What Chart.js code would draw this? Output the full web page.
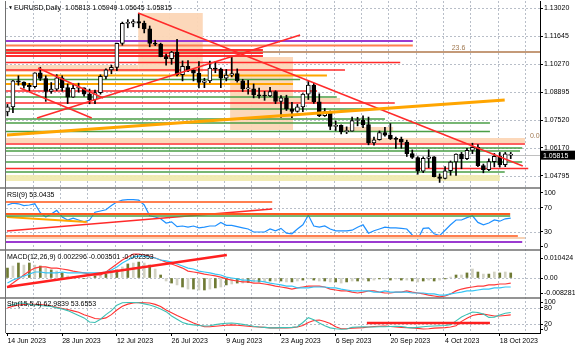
<!DOCTYPE html>
<html>
<head>
<meta charset="utf-8">
<script src="https://cdn.jsdelivr.net/npm/chart.js@4.4.0/dist/chart.umd.min.js"></script>
<style>
  html, body { margin: 0; padding: 0; background: #fff; }
</style>
</head>
<body>
<canvas id="chart" width="575" height="352"></canvas>
<script>
// ---- data (bar index 0 = 14 Jun 2023) ----
const dates = ['14 Jun 2023', '28 Jun 2023', '12 Jul 2023', '26 Jul 2023', '9 Aug 2023',
  '23 Aug 2023', '6 Sep 2023', '20 Sep 2023', '4 Oct 2023', '18 Oct 2023'];
const dateIdx = [0, 10, 20, 30, 40, 50, 60, 70, 80, 90];

const opens = [1.0793,1.0818,1.0946,1.0939,1.0923,1.0917,1.0984,1.0957,1.0893,1.0905,
  1.0960,1.0912,1.0866,1.0909,1.0911,1.0880,1.0852,1.0888,1.0967,1.0999,
  1.1011,1.1129,1.1227,1.1228,1.1236,1.1228,1.1200,1.1128,1.1125,1.1064,
  1.1054,1.1086,1.0975,1.1016,1.0997,1.0983,1.0938,1.0945,1.1008,1.1003,
  1.0958,1.0973,1.0981,1.0946,1.0906,1.0906,1.0877,1.0872,1.0871,1.0893,
  1.0845,1.0862,1.0808,1.0796,1.0818,1.0880,1.0925,1.0843,1.0775,1.0795,
  1.0722,1.0727,1.0697,1.0699,1.0751,1.0753,1.0731,1.0642,1.0657,1.0692,
  1.0679,1.0661,1.0659,1.0645,1.0589,1.0570,1.0503,1.0566,1.0573,1.0476,
  1.0468,1.0505,1.0548,1.0587,1.0564,1.0605,1.0620,1.0530,1.0510,1.0550,
  1.0576,1.0535,1.05813];
const highs = [1.0830,1.0948,1.0970,1.0940,1.0933,1.0985,1.1012,1.0970,1.0937,1.0976,
  1.0970,1.0930,1.0930,1.0934,1.0911,1.0905,1.0900,1.0975,1.1004,1.1022,
  1.1130,1.1233,1.1245,1.1245,1.1276,1.1238,1.1214,1.1144,1.1130,1.1077,
  1.1090,1.1149,1.1043,1.1045,1.1000,1.1040,1.0958,1.1042,1.1040,1.1008,
  1.1001,1.1064,1.1004,1.0953,1.0948,1.0930,1.0910,1.0894,1.0914,1.0897,
  1.0873,1.0875,1.0840,1.0830,1.0883,1.0945,1.0934,1.0882,1.0810,1.0798,
  1.0749,1.0730,1.0720,1.0768,1.0767,1.0774,1.0768,1.0670,1.0700,1.0718,
  1.0736,1.0670,1.0670,1.0655,1.0607,1.0574,1.0573,1.0608,1.0575,1.0490,
  1.0525,1.0553,1.0588,1.0595,1.0615,1.0640,1.0633,1.0538,1.0564,1.0590,
  1.0595,1.0595,1.05949];
const lows = [1.0774,1.0789,1.0924,1.0910,1.0895,1.0910,1.0947,1.0845,1.0884,1.0898,
  1.0895,1.0834,1.0864,1.0890,1.0870,1.0833,1.0833,1.0880,1.0955,1.0980,
  1.0995,1.1120,1.1205,1.1210,1.1205,1.1180,1.1112,1.1118,1.1063,1.1022,
  1.1026,1.0970,1.0945,1.0990,1.0945,1.0911,1.0912,1.0937,1.0985,1.0912,
  1.0945,1.0965,1.0939,1.0893,1.0880,1.0862,1.0860,1.0850,1.0868,1.0834,
  1.0766,1.0800,1.0765,1.0792,1.0795,1.0854,1.0835,1.0770,1.0771,1.0706,
  1.0702,1.0686,1.0687,1.0699,1.0725,1.0716,1.0632,1.0631,1.0655,1.0675,
  1.0658,1.0615,1.0615,1.0575,1.0565,1.0488,1.0496,1.0520,1.0475,1.0448,
  1.0465,1.0483,1.0482,1.0515,1.0560,1.0589,1.0525,1.0495,1.0506,1.0524,
  1.0523,1.0525,1.05645];
const closes = [1.0818,1.0946,1.0939,1.0923,1.0917,1.0984,1.0957,1.0893,1.0905,1.0960,
  1.0912,1.0866,1.0909,1.0911,1.0880,1.0852,1.0888,1.0967,1.0999,1.1011,
  1.1129,1.1227,1.1228,1.1236,1.1228,1.1200,1.1128,1.1125,1.1064,1.1054,
  1.1086,1.0975,1.1016,1.0997,1.0983,1.0938,1.0945,1.1008,1.1003,1.0958,
  1.0973,1.0981,1.0946,1.0906,1.0906,1.0877,1.0872,1.0871,1.0893,1.0845,
  1.0862,1.0808,1.0796,1.0818,1.0880,1.0925,1.0843,1.0775,1.0795,1.0722,
  1.0727,1.0697,1.0699,1.0751,1.0753,1.0731,1.0642,1.0657,1.0692,1.0679,
  1.0661,1.0659,1.0645,1.0589,1.0570,1.0503,1.0566,1.0573,1.0476,1.0468,
  1.0505,1.0548,1.0587,1.0564,1.0605,1.0620,1.0530,1.0510,1.0550,1.0576,
  1.0535,1.0588,1.05815];

const rsi = [75,78,77,74,75,77,62,55,60,66,
  55,50,53,50,47,50,63,65,67,74,
  80,83,84,84,83,75,57,55,52,45,
  47,39,40,38,40,37,38,40,40,46,
  41,41,39,37,35,30,30,30,35,32,
  36,28,27,35,42,58,40,38,40,35,
  32,32,32,33,38,42,28,32,35,38,
  37,37,36,35,25,18,36,37,27,24,
  33,42,50,50,54,57,46,42,45,50,
  48,52,53];

const macdHist = [0.0053,0.0064,0.0080,0.0069,0.0080,0.0069,0.0064,0.0053,0.0043,0.0037,
  0.0027,0.0011,0.0005,0.0003,-0.0003,0.0005,0.0011,0.0016,0.0021,0.0032,
  0.0043,0.0059,0.0075,0.0080,0.0085,0.0080,0.0069,0.0048,0.0016,-0.0016,
  -0.0027,-0.0037,-0.0048,-0.0059,-0.0059,-0.0064,-0.0064,-0.0059,-0.0053,-0.0048,
  -0.0037,-0.0032,-0.0027,-0.0027,-0.0024,-0.0021,-0.0021,-0.0019,-0.0016,-0.0016,
  -0.0016,-0.0021,-0.0021,-0.0016,-0.0011,-0.0005,-0.0011,-0.0016,-0.0016,-0.0021,
  -0.0021,-0.0027,-0.0021,-0.0016,-0.0016,-0.0011,-0.0016,-0.0011,-0.0005,-0.0005,
  -0.0011,-0.0005,-0.0011,-0.0011,-0.0016,-0.0021,-0.0016,-0.0011,-0.0016,-0.0011,
  -0.0005,0.0005,0.0016,0.0016,0.0027,0.0048,0.0032,0.0021,0.0021,0.0032,
  0.0027,0.0032,0.0027];
const macdMain = [-0.0027,-0.0011,0,0.0011,0.0021,0.0032,0.0032,0.0027,0.0027,0.0027,
  0.0032,0.0027,0.0027,0.0027,0.0027,0.0027,0.0027,0.0027,0.0032,0.0043,
  0.0059,0.0080,0.0096,0.0112,0.0117,0.0117,0.0112,0.0107,0.0096,0.0091,
  0.0085,0.0075,0.0064,0.0053,0.0048,0.0037,0.0032,0.0027,0.0021,0.0016,
  0.0005,0,-0.0005,-0.0011,-0.0011,-0.0016,-0.0016,-0.0021,-0.0027,-0.0032,
  -0.0037,-0.0043,-0.0043,-0.0053,-0.0053,-0.0053,-0.0048,-0.0048,-0.0048,-0.0053,
  -0.0053,-0.0059,-0.0064,-0.0069,-0.0069,-0.0069,-0.0069,-0.0075,-0.0075,-0.0069,
  -0.0075,-0.0075,-0.0075,-0.0075,-0.0080,-0.0080,-0.0080,-0.0085,-0.0085,-0.0091,
  -0.0091,-0.0085,-0.0080,-0.0075,-0.0069,-0.0069,-0.0064,-0.0059,-0.0059,-0.0053,
  -0.0053,-0.0048,-0.0048];
const macdSignal = [-0.0048,-0.0027,-0.0005,0.0016,0.0037,0.0053,0.0059,0.0059,0.0053,0.0053,
  0.0048,0.0043,0.0037,0.0032,0.0027,0.0021,0.0016,0.0016,0.0032,0.0053,
  0.0075,0.0096,0.0112,0.0128,0.0128,0.0123,0.0117,0.0107,0.0096,0.0085,
  0.0075,0.0064,0.0053,0.0037,0.0032,0.0027,0.0021,0.0016,0.0011,0.0005,
  -0.0005,-0.0011,-0.0016,-0.0021,-0.0021,-0.0027,-0.0027,-0.0032,-0.0037,-0.0043,
  -0.0048,-0.0053,-0.0059,-0.0053,-0.0048,-0.0043,-0.0043,-0.0043,-0.0048,-0.0059,
  -0.0064,-0.0069,-0.0069,-0.0075,-0.0080,-0.0075,-0.0069,-0.0069,-0.0075,-0.0080,
  -0.0080,-0.0075,-0.0075,-0.0069,-0.0075,-0.0080,-0.0085,-0.0091,-0.0096,-0.0101,
  -0.0096,-0.0085,-0.0069,-0.0059,-0.0053,-0.0048,-0.0043,-0.0043,-0.0037,-0.0037,
  -0.0032,-0.0032,-0.0027];

const stoMain = [87,92,98,97,93,91,89,87,85,80,
  76,70,61,52,43,28,26,38,55,70,
  90,99,100,100,99,95,91,84,76,66,
  50,38,26,20,17,15,13,14,18,21,
  23,24,22,19,16,12,9,8,6,6,
  7,7,8,10,26,44,36,24,14,6,
  3,1,2,8,9,10,9,9,10,10,
  11,12,11,8,6,8,10,12,13,14,
  15,18,32,46,56,65,63,57,45,46,
  54,60,63];
const stoSignal = [80,86,91,93,94,93,92,91,87,82,
  78,74,69,64,55,48,41,39,43,55,
  72,86,94,98,100,99,98,93,85,72,
  62,52,43,33,24,17,10,10,12,14,
  16,17,16,14,12,10,9,8,6,6,
  6,6,7,9,15,26,33,35,30,22,
  10,3,3,5,6,7,9,11,12,13,
  11,9,8,7,6,4,2,3,5,6,
  7,9,14,30,42,52,56,57,54,50,
  50,52,54];

// axis ticks
const mainTicks = [1.13020, 1.11645, 1.10270, 1.08895, 1.07520, 1.06170, 1.04795];
const rsiTickPos = [95, 70, 30, 6.5];
const rsiTickText = ['100', '70', '30', '0'];
const macdTicks = [0.010424, 0, -0.008281];
const macdTickText = ['0.010424', '0.00', '-0.008281'];
const stoTicks = [100, 80, 20, 0];
const gridIdx = [4.6, 9.6, 14.6, 19.6, 24.6, 29.6, 34.6, 39.6, 44.6, 49.6,
  54.6, 59.6, 64.6, 69.6, 74.6, 79.6, 84.6, 89.6, 94.6];

// drawn objects on the price pane: [from bar, to bar, price a, price b, kind]
const boxes = [
  [23.9, 35.7, 1.12775, 1.09887, 'peach'],
  [40.7, 52.2, 1.10621, 1.07047, 'peach'],
  [-0.5, 23.9, 1.10229, 1.09887, 'peach'],
  [-0.5, 94.6, 1.06655, 1.06411, 'peach'],
  [52.2, 60.8, 1.08614, 1.08369, 'peach'],
  [60.8, 70.5, 1.07194, 1.06949, 'peach'],
  [-0.5, 90.0, 1.04844, 1.04550, 'khaki']
];
// horizontal levels: [price, from bar, to bar, kind]
const levels = [
  [1.11404, -0.5, 74.1, 'purple'],
  [1.11184, -0.5, 74.1, 'coral'],
  [1.10866, -0.5, 98, 'fib'],
  [1.10964, -0.5, 46.7, 'red2'],
  [1.10817, -0.5, 46.7, 'red2'],
  [1.10670, -0.5, 46.7, 'red2'],
  [1.10352, -0.5, 71.8, 'red'],
  [1.09985, -0.5, 61.7, 'red'],
  [1.09715, -0.5, 58.4, 'orange'],
  [1.09520, -0.5, 53.5, 'green'],
  [1.09299, -0.5, 52.2, 'orange'],
  [1.08956, -0.5, 56.6, 'red'],
  [1.08663, -0.5, 60.2, 'green'],
  [1.08369, -0.5, 70.8, 'red'],
  [1.08075, -0.5, 66.6, 'green'],
  [1.07586, -0.5, 69.0, 'green'],
  [1.07390, -0.5, 88.2, 'green'],
  [1.06974, -0.5, 88.2, 'green'],
  [1.06362, -0.5, 94.6, 'red'],
  [1.06166, -0.5, 94.1, 'green'],
  [1.06019, -0.5, 93.7, 'green'],
  [1.05481, -0.5, 94.1, 'green'],
  [1.05162, -0.5, 95.2, 'red'],
  [1.04991, -0.5, 90.9, 'green']
];
// trend lines: [bar a, value a, bar b, value b, kind]
const mainTrends = [
  [23.9, 1.12775, 94.2, 1.05285, 'red'],
  [5.4, 1.07635, 53.5, 1.11698, 'red'],
  [5.6, 1.10083, 17.5, 1.08614, 'red'],
  [2.3, 1.09103, 15.4, 1.07635, 'red'],
  [-0.1, 1.06802, 90.9, 1.08516, 'orangeTrend']
];
const rsiTrends = [
  [-0.5, 80, 48.4, 80, 'coral'],
  [-0.1, 31.7, 48.4, 68.3, 'red'],
  [-0.1, 55, 14.5, 46.7, 'orange'],
  [-0.5, 60, 91.9, 60, 'redOrange'],
  [-0.5, 56.7, 91.9, 56.7, 'green'],
  [-0.5, 23.3, 93.3, 23.3, 'coral'],
  [-0.5, 20, 94.6, 20, 'peachLine'],
  [-0.5, 13.3, 94.1, 13.3, 'purple']
];
const macdTrends = [[-0.1, -0.0048, 40.1, 0.0123, 'redThick']];
const stoTrends = [[65.7, 24, 88.2, 24, 'redThick']];
const rsiLevels = [70, 30];
const macdLevels = [0];
const stoLevels = [80, 20];
const fibLabels = [['23.6', 81.2, 1.10866], ['0.0', 95.5, 1.06560]];

// ---- styles ----
const FONT = '"Liberation Sans", Arial, sans-serif';
const fills = { peach: 'rgba(252,214,182,0.95)', khaki: 'rgba(240,234,176,0.95)' };
const strokes = {
  red: ['#ff2a2a', 1.5], red2: ['#ff3030', 2.2], green: ['#4a9e46', 1.6],
  orange: ['#ffa500', 2], coral: ['#ff7f50', 2], purple: ['#9b3bd0', 2],
  fib: ['#c49a78', 2], redOrange: ['#ff5a1e', 2], peachLine: ['#f7d2b6', 2],
  redThick: ['#ff2020', 2.5], orangeTrend: ['#ffa500', 3]
};

const bars = closes.map((_, i) => i);

function line(ctx, x0, y0, x1, y1, kind) {
  const s = strokes[kind];
  ctx.strokeStyle = s[0];
  ctx.lineWidth = s[1];
  ctx.beginPath();
  ctx.moveTo(x0, y0);
  ctx.lineTo(x1, y1);
  ctx.stroke();
}

function clipTo(ctx, area, sc) {
  ctx.beginPath();
  ctx.rect(area.left, sc.top, area.right - area.left, sc.bottom - sc.top);
  ctx.clip();
}

function drawTrends(ctx, area, x, sc, list) {
  ctx.save();
  clipTo(ctx, area, sc);
  list.forEach(t => line(ctx, x.getPixelForValue(t[0]), sc.getPixelForValue(t[1]),
    x.getPixelForValue(t[2]), sc.getPixelForValue(t[3]), t[4]));
  ctx.restore();
}

function dotted(ctx, area, y) {
  ctx.save();
  ctx.strokeStyle = '#b8bec8';
  ctx.lineWidth = 1;
  ctx.setLineDash([2, 2]);
  ctx.beginPath();
  ctx.moveTo(area.left, Math.round(y) + 0.5);
  ctx.lineTo(area.right, Math.round(y) + 0.5);
  ctx.stroke();
  ctx.restore();
}

const objects = {
  id: 'objects',
  beforeDatasetsDraw(chart) {
    const { ctx, chartArea: a, scales } = chart;
    const x = scales.x, m = scales.yMain;
    // vertical grid
    ctx.save();
    ctx.strokeStyle = '#b8bec8';
    ctx.lineWidth = 1;
    ctx.setLineDash([2, 2]);
    gridIdx.forEach(g => {
      const px = Math.round(x.getPixelForValue(g)) + 0.5;
      ctx.beginPath();
      ctx.moveTo(px, a.top);
      ctx.lineTo(px, a.bottom);
      ctx.stroke();
    });
    ctx.restore();
    mainTicks.forEach(v => dotted(ctx, a, m.getPixelForValue(v)));
    rsiLevels.forEach(v => dotted(ctx, a, scales.yRsi.getPixelForValue(v)));
    macdLevels.forEach(v => dotted(ctx, a, scales.yMacd.getPixelForValue(v)));
    stoLevels.forEach(v => dotted(ctx, a, scales.ySto.getPixelForValue(v)));

    ctx.save();
    clipTo(ctx, a, m);
    boxes.forEach(b => {
      const x0 = x.getPixelForValue(b[0]), x1 = x.getPixelForValue(b[1]);
      const y0 = m.getPixelForValue(b[2]), y1 = m.getPixelForValue(b[3]);
      ctx.fillStyle = fills[b[4]];
      ctx.fillRect(x0, y0, x1 - x0, y1 - y0);
    });
    levels.forEach(l => {
      const y = m.getPixelForValue(l[0]);
      line(ctx, x.getPixelForValue(l[1]), y, x.getPixelForValue(l[2]), y, l[3]);
    });
    // bid line
    const by = Math.round(m.getPixelForValue(closes[closes.length - 1])) + 0.5;
    ctx.strokeStyle = '#c0c0c0';
    ctx.lineWidth = 1;
    ctx.beginPath();
    ctx.moveTo(a.left, by);
    ctx.lineTo(a.right, by);
    ctx.stroke();
    ctx.restore();
  },
  afterDatasetsDraw(chart) {
    const { ctx, chartArea: a, scales } = chart;
    const x = scales.x, m = scales.yMain;
    drawTrends(ctx, a, x, m, mainTrends);
    drawTrends(ctx, a, x, scales.yRsi, rsiTrends);
    drawTrends(ctx, a, x, scales.yMacd, macdTrends);
    drawTrends(ctx, a, x, scales.ySto, stoTrends);

    ctx.save();
    ctx.font = '7px ' + FONT;
    ctx.textBaseline = 'middle';
    // fib labels
    ctx.fillStyle = '#a07850';
    fibLabels.forEach(f => {
      ctx.textAlign = 'left';
      ctx.fillText(f[0], x.getPixelForValue(f[1]), m.getPixelForValue(f[2]) - 4);
    });
    // pane titles
    ctx.fillStyle = '#000';
    ctx.textAlign = 'left';
    ctx.font = '5px ' + FONT;
    ctx.fillText('\u25BC', a.left + 2, m.top + 7);
    ctx.font = '7px ' + FONT;
    ctx.fillText('EURUSD,Daily  1.05813 1.05949 1.05645 1.05815', a.left + 8, m.top + 7);
    ctx.fillText('RSI(9) 53.0435', a.left + 1, scales.yRsi.top + 7);
    ctx.fillText('MACD(12,26,9) 0.002296 -0.003501 -0.002353', a.left + 1, scales.yMacd.top + 7);
    ctx.fillText('Sto(15,5,4) 62.9839 53.6553', a.left + 1, scales.ySto.top + 6);

    // pane separators and left edge
    ctx.strokeStyle = '#707070';
    ctx.lineWidth = 1.5;
    [scales.yRsi.top, scales.yMacd.top, scales.ySto.top].forEach(t => {
      ctx.beginPath();
      ctx.moveTo(0, t);
      ctx.lineTo(a.right, t);
      ctx.stroke();
    });
    ctx.lineWidth = 1;
    ctx.beginPath();
    ctx.moveTo(a.left - 0.5, a.top);
    ctx.lineTo(a.left - 0.5, a.bottom);
    ctx.stroke();

    // current price tag
    const last = closes[closes.length - 1];
    const py = m.getPixelForValue(last);
    ctx.fillStyle = '#000';
    ctx.fillRect(a.right, py - 4.5, 35, 9);
    ctx.fillStyle = '#fff';
    ctx.fillText(last.toFixed(5), a.right + 3, py + 0.5);
    ctx.restore();
  }
};

function yAxis(weight, min, max, tickPos, tickText) {
  return {
    type: 'linear', position: 'right', stack: 'panes', stackWeight: weight,
    min: min, max: max,
    border: { display: true, color: '#000', width: 1 },
    grid: { display: true, drawOnChartArea: false, drawTicks: true, tickLength: 3, color: '#000' },
    ticks: { color: '#000', padding: 1, autoSkip: false, font: { size: 7 },
      callback: (v, i) => tickText[i] },
    afterBuildTicks: s => { s.ticks = tickPos.map(v => ({ value: v })); },
    afterFit: s => { s.width = 35; s.paddingTop = 0; s.paddingBottom = 0; }
  };
}

Chart.defaults.font.family = FONT;
Chart.defaults.font.size = 7;

new Chart(document.getElementById('chart'), {
  type: 'bar',
  data: {
    datasets: [
      { type: 'bar', data: bars.map(i => ({ x: i, y: [lows[i], highs[i]] })),
        yAxisID: 'yMain', backgroundColor: '#000', barThickness: 1, grouped: false, order: 3 },
      { type: 'bar', data: bars.map(i => ({ x: i, y: [opens[i], closes[i]] })),
        yAxisID: 'yMain',
        backgroundColor: bars.map(i => closes[i] >= opens[i] ? '#fff' : '#000'),
        borderColor: '#000', borderWidth: 1, borderSkipped: false,
        barThickness: 4, minBarLength: 1, grouped: false, order: 2 },
      { type: 'line', data: bars.map(i => ({ x: i, y: rsi[i] })), yAxisID: 'yRsi',
        borderColor: '#1e90ff', borderWidth: 1.2, pointRadius: 0, tension: 0, order: 1 },
      { type: 'bar', data: bars.map(i => ({ x: i, y: macdHist[i] })), yAxisID: 'yMacd',
        backgroundColor: bars.map(i => i % 2 ? '#d2d2c4' : '#6f7a34'),
        barThickness: 2, grouped: false, order: 3 },
      { type: 'line', data: bars.map(i => ({ x: i, y: macdMain[i] })), yAxisID: 'yMacd',
        borderColor: '#35c4f4', borderWidth: 1.2, pointRadius: 0, tension: 0, order: 1 },
      { type: 'line', data: bars.map(i => ({ x: i, y: macdSignal[i] })), yAxisID: 'yMacd',
        borderColor: '#ff3a3a', borderWidth: 1.2, pointRadius: 0, tension: 0, order: 1 },
      { type: 'line', data: bars.map(i => ({ x: i, y: stoMain[i] })), yAxisID: 'ySto',
        borderColor: '#3cc0b4', borderWidth: 1.1, pointRadius: 0, tension: 0, order: 1 },
      { type: 'line', data: bars.map(i => ({ x: i, y: stoSignal[i] })), yAxisID: 'ySto',
        borderColor: '#ff3030', borderWidth: 1.1, pointRadius: 0, tension: 0, order: 1 }
    ]
  },
  options: {
    responsive: false,
    animation: false,
    events: [],
    layout: { padding: { left: 6, top: 1, right: 0, bottom: 0 } },
    plugins: { legend: { display: false }, tooltip: { enabled: false } },
    scales: {
      yMain: yAxis(187, 1.04207, 1.13363, mainTicks, mainTicks.map(v => v.toFixed(5))),
      yRsi: yAxis(62, 0, 103.33, rsiTickPos, rsiTickText),
      yMacd: yAxis(48, -0.01068, 0.014952, macdTicks, macdTickText),
      ySto: yAxis(35, -12.96, 116.67, stoTicks, stoTicks.map(String)),
      x: {
        type: 'linear', min: -0.27, max: 97.35, offset: false,
        border: { display: true, color: '#000', width: 1 },
        grid: { display: true, drawOnChartArea: false, drawTicks: true, tickLength: 3, color: '#000', offset: false },
        ticks: { align: 'start', maxRotation: 0, autoSkip: false, padding: 1, color: '#000',
          font: { size: 7 }, callback: (v, i) => dates[i] },
        afterBuildTicks: s => { s.ticks = dateIdx.map(v => ({ value: v })); },
        afterFit: s => { s.height = 19; s.paddingLeft = 0; s.paddingRight = 0; }
      }
    }
  },
  plugins: [objects]
});
</script>
</body>
</html>
